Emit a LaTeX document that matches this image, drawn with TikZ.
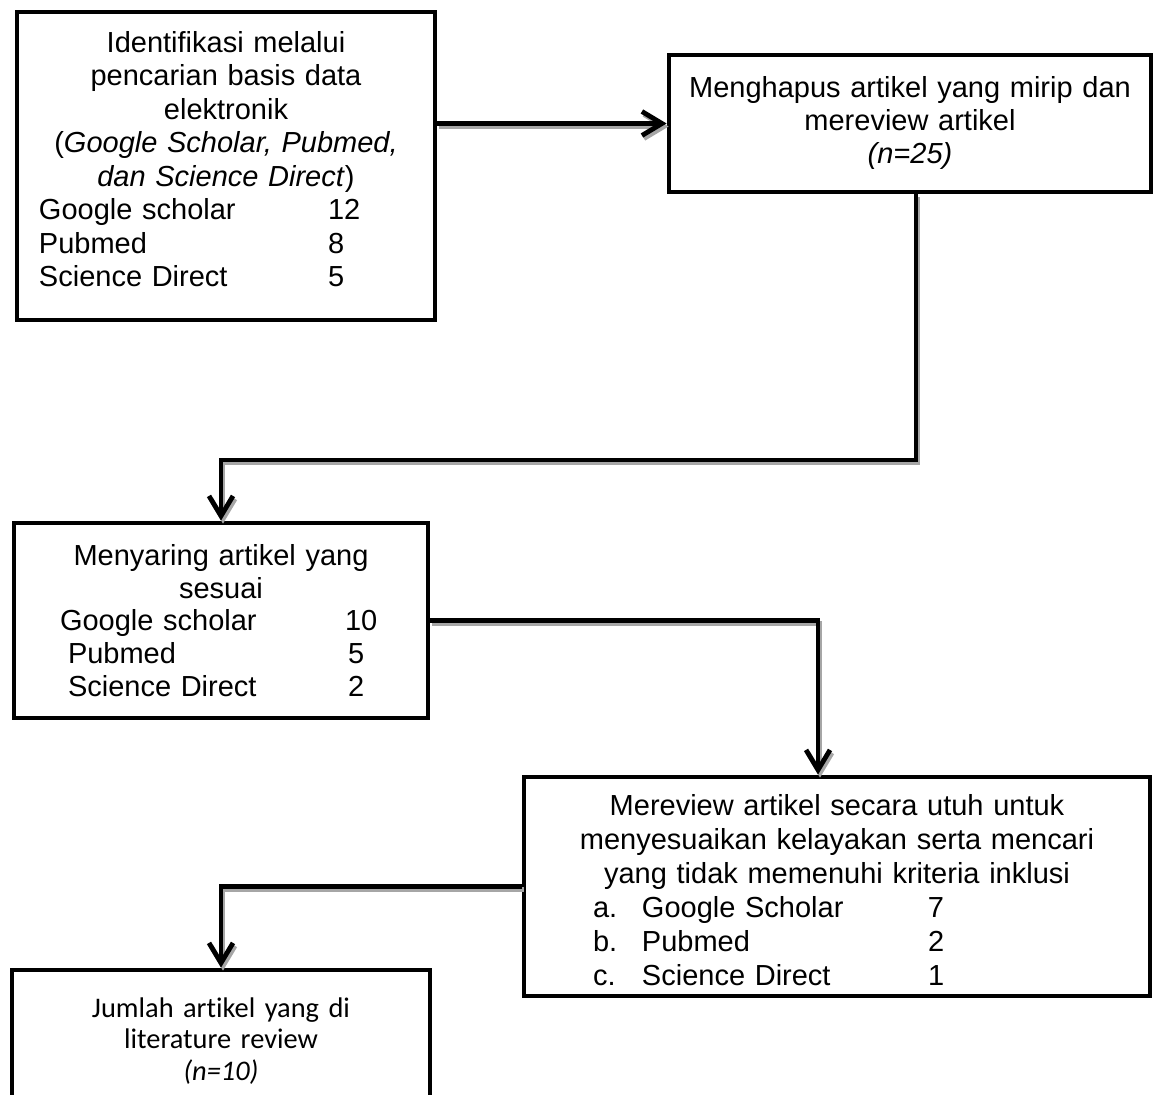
\documentclass[tikz,border=0pt]{standalone}
\usepackage{fontspec}
\setmainfont{Liberation Sans}
\newfontfamily\calibrifont[Ligatures=NoCommon]{Carlito}
\usetikzlibrary{arrows.meta, calc}
\newcommand{\dbrow}[4]{\makebox[\linewidth][l]{\hspace*{#1}\makebox[#2][l]{#3}#4}}

\begin{document}
\begin{tikzpicture}[x=0.5pt, y=-0.5pt,
                box/.style={draw, line width=2.4pt, inner sep=0pt, align=center},
                flow/.style={line width=2.4pt, -{Straight Barb[length=10pt, width=12pt]}},
                flowshadow/.style={flow, draw=black!35, transform canvas={shift={(1pt,-1.5pt)}}}
            ]

            \useasboundingbox (0,0) rectangle (1165,1095);

            \node[box, text width=209pt, minimum height=154pt,
                  font=\fontsize{14.5}{16.75}\selectfont] (ident) at (226,166)
                {Identifikasi melalui\\ pencarian basis data\\ elektronik\\
                 (\textit{Google Scholar, Pubmed,}\\ \textit{dan Science Direct})\\
                 \dbrow{11pt}{144.5pt}{Google scholar}{12}\\
                 \dbrow{11pt}{144.5pt}{Pubmed}{8}\\
                 \dbrow{11pt}{144.5pt}{Science Direct}{5}\rule[-7pt]{0pt}{0pt}};
            \node[box, text width=241pt, minimum height=68.5pt,
                  font=\fontsize{14.5}{16.5}\selectfont] (hapus) at (910,123.5)
                {Menghapus artikel yang mirip dan\\ mereview artikel\\ \textit{(n=25)}};
            \node[box, text width=207pt, minimum height=97.5pt,
                  font=\fontsize{14.5}{16.4}\selectfont] (saring) at (221,620.5)
                {Menyaring artikel yang\\ sesuai\\
                 \dbrow{23pt}{142.5pt}{Google scholar}{10}\\
                 \dbrow{27pt}{140pt}{Pubmed}{5}\\
                 \dbrow{27pt}{140pt}{Science Direct}{2}};
            \node[box, text width=313pt, minimum height=109.5pt,
                  font=\fontsize{14.5}{17}\selectfont] (review) at (837,886.5)
                {\rule{0pt}{14.5pt}Mereview artikel secara utuh untuk\\
                 menyesuaikan kelayakan serta mencari\\
                 yang tidak memenuhi kriteria inklusi\\
                 \dbrow{34.5pt}{167.5pt}{\makebox[24.5pt][l]{a.}Google Scholar}{7}\\
                 \dbrow{34.5pt}{167.5pt}{\makebox[24.5pt][l]{b.}Pubmed}{2}\\
                 \dbrow{34.5pt}{167.5pt}{\makebox[24.5pt][l]{c.}Science Direct}{1}};
            \node[box, text width=209pt, minimum height=71pt,
                  font=\calibrifont\fontsize{14.2}{15.75}\selectfont] (jumlah) at (221,1041)
                {Jumlah artikel yang di\\ literature review\\ \textit{(n=10)}};

            \coordinate (turn1) at (221,460);
            \coordinate (drop2) at (818,0);

            % shadow first, then the black line on top
            \foreach \layer in {flowshadow, flow} {
                \draw[\layer] (ident.east |- hapus.west) -- (hapus.west);
                \draw[\layer] ([xshift=3pt]hapus.south) |- (turn1) -- (saring.north);
                \draw[\layer] (saring.east) -| (drop2 |- review.north);
                \draw[\layer] (review.west) -| (jumlah.north);
            }
        \end{tikzpicture}
\end{document}
